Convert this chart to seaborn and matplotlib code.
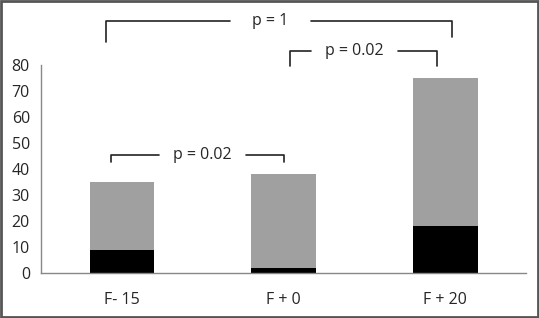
import matplotlib
matplotlib.use("Agg")
import matplotlib.pyplot as plt
import seaborn as sns
import pandas as pd
from matplotlib.patches import Rectangle

# data
groups = ["F- 15", "F + 0", "F + 20"]
totals = [35, 38, 75]
lower = [9, 2, 18]
yticks = [0, 10, 20, 30, 40, 50, 60, 70, 80]

# significance brackets: (x_left, x_right, y_line, y_left_end, y_right_end, label, text_x, gap_half)
brackets = [
    (-0.1, 2.04, 96.9, 88.8, 90.8, "p = 1", 0.92, 0.25),
    (1.04, 1.95, 85.4, 79.8, 79.6, "p = 0.02", 1.44, 0.27),
    (-0.07, 1.0, 45.4, 42.8, 42.6, "p = 0.02", 0.5, 0.27),
]

sns.set_style("white")
plt.rcParams["font.family"] = ["Open Sans", "DejaVu Sans"]

df = pd.DataFrame({"group": groups, "total": totals, "lower": lower})

fig = plt.figure(figsize=(5.39, 3.18), dpi=100)
ax = fig.add_axes([41 / 539, 45 / 318, 485 / 539, 208 / 318])

sns.barplot(data=df, x="group", y="total", color="#a0a0a0", width=0.4,
            saturation=1, linewidth=0, ax=ax)
sns.barplot(data=df, x="group", y="lower", color="black", width=0.4,
            saturation=1, linewidth=0, ax=ax)

ax.set_xlim(-0.5, 2.5)
ax.set_ylim(0, 80)
ax.set_yticks(yticks)
ax.set_yticklabels([str(t) for t in yticks], fontsize=11.5)
ax.set_xlabel("")
ax.set_ylabel("")
ax.set_xticks([-0.5, 0.5, 1.5, 2.5], minor=False)
ax.set_xticklabels([])
ax.set_xticks([0, 1, 2], minor=True)
ax.set_xticklabels(groups, minor=True, fontsize=11.5)
ax.tick_params(axis="x", which="minor", length=0, pad=14)
ax.tick_params(axis="x", which="major", length=5, color="#888888", direction="out")
ax.tick_params(axis="y", length=5, color="#888888", direction="out", pad=3)
sns.despine(ax=ax)
for s in ["left", "bottom"]:
    ax.spines[s].set_color("#888888")
    ax.spines[s].set_linewidth(1)

for xl, xr, yl, yle, yre, label, tx, gap in brackets:
    kw = dict(color="#222222", lw=1.2, clip_on=False)
    ax.plot([xl, xl, tx - gap], [yle, yl, yl], **kw)
    ax.plot([tx + gap, xr, xr], [yl, yl, yre], **kw)
    ax.text(tx, yl, label, ha="center", va="center", fontsize=11.5, clip_on=False)

fig.patches.append(Rectangle((0.002, 0.003), 0.996, 0.994, transform=fig.transFigure,
                             fill=False, edgecolor="#555555", lw=2))

fig.savefig("out.png", dpi=100)
